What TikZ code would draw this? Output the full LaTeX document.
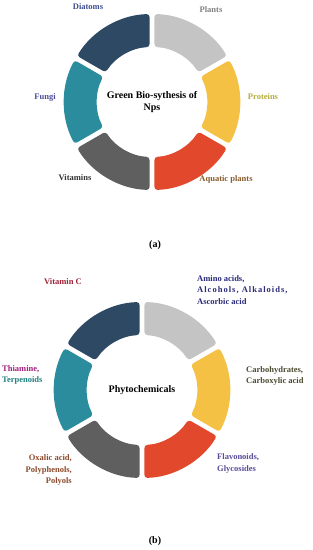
\documentclass[tikz,border=0pt]{standalone}
\usepackage{fontspec}
\setmainfont{Liberation Serif}
\definecolor{plant}{HTML}{C4C4C4}
\definecolor{prot}{HTML}{F4C145}
\definecolor{aqua}{HTML}{E2482B}
\definecolor{vita}{HTML}{5F5F5F}
\definecolor{fung}{HTML}{2B8C9E}
\definecolor{diat}{HTML}{2E4964}
\definecolor{tdiat}{HTML}{3F4F8F}
\definecolor{tprot}{HTML}{B5AE3C}
\definecolor{taqua}{HTML}{8A5A2A}
\definecolor{tvita}{HTML}{333333}
\definecolor{tfung}{HTML}{4B4B9B}
\definecolor{tvitc}{HTML}{9B2335}
\definecolor{tamino}{HTML}{2A2A7A}
\definecolor{tcarbo}{HTML}{4A4A30}
\definecolor{tflavo}{HTML}{5A4A9A}
\definecolor{toxal}{HTML}{8B4A2B}
\definecolor{tthia}{HTML}{A02080}
\definecolor{tterp}{HTML}{208080}
\begin{document}
\begin{tikzpicture}[x=1pt,y=1pt,
    lbl/.style={font=\bfseries\fontsize{8.5}{11.8}\selectfont,inner sep=0pt},
    mid/.style={font=\bfseries\fontsize{10}{12.5}\selectfont,align=center}]
\useasboundingbox (0,0) rectangle (313,550);
\coordinate (ca) at (152,448);
\coordinate (cb) at (142,160);
% the two rings
\foreach \c in {ca,cb}
\foreach \s/\col in {30/plant,-30/prot,-90/aqua,-150/vita,150/fung,90/diat}
    \fill[\col,rounded corners=3pt] ([shift={(\s+1.6:88)}]\c)
        arc[start angle=\s+1.6,end angle=\s+58.4,radius=88]
        -- ([shift={(\s+57.4:55)}]\c)
        arc[start angle=\s+57.4,end angle=\s+2.6,radius=55] -- cycle;
% (a)
\node[mid] (green) at (ca) {Green Bio-sythesis of\\Nps};
\node[lbl,text=tdiat] (diatoms) at (88,543) {Diatoms};
\node[lbl,text=gray] (plants) at (211,540) {Plants};
\node[lbl,text=tprot] (proteins) at (263,453) {Proteins};
\node[lbl,text=taqua] (aquatic) at (226,371) {Aquatic plants};
\node[lbl,text=tvita] (vitamins) at (75,372) {Vitamins};
\node[lbl,text=tfung] (fungi) at (45,453) {Fungi};
\node[font=\bfseries\fontsize{10}{12}\selectfont] (capa) at (155,305) {(a)};
% (b)
\node[mid] (phyto) at (cb) {Phytochemicals};
\node[lbl,text=tvitc] (vitc) at (63,268) {Vitamin C};
\node[lbl,text=tamino,anchor=west,align=left] (amino) at (197,260)
    {Amino acids,\\{\addfontfeature{LetterSpace=12}Alcohols, Alkaloids,}\\Ascorbic acid};
\node[lbl,text=tcarbo,anchor=west,align=left] (carbo) at (246,174)
    {Carbohydrates,\\Carboxylic acid};
\node[lbl,text=tflavo,anchor=west,align=left] (flavo) at (217,86.5)
    {Flavonoids,\\Glycosides};
\node[lbl,text=toxal,anchor=east,align=right] (oxalic) at (72,80)
    {Oxalic acid,\\Polyphenols,\\Polyols};
\node[lbl,anchor=west,align=left] (thiam) at (2,175)
    {\textcolor{tthia}{Thiamine,}\\\textcolor{tterp}{Terpenoids}};
\node[font=\bfseries\fontsize{10}{12}\selectfont] (capb) at (155,9) {(b)};
\end{tikzpicture}
\end{document}
